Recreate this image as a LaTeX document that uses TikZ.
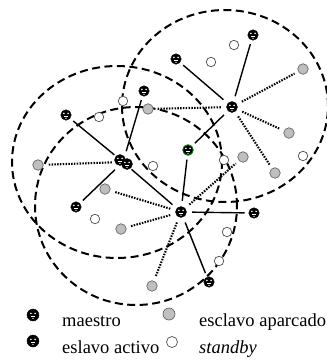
\documentclass[tikz,border=0pt]{standalone}
\usepackage{fontspec}
\setmainfont{Liberation Serif}
\begin{document}
\begin{tikzpicture}[x=1pt,y=-1pt,
  ring/.style={line width=2pt, dash pattern=on 8pt off 4.5pt},
  act/.style={line width=1.4pt, shorten <=4pt, shorten >=4pt},
  park/.style={line width=2.1pt, dash pattern=on 1.5pt off 1.3pt, shorten <=4pt, shorten >=4pt},
  blk/.style={circle, fill=black, draw=black, line width=0.4pt, minimum size=10.5pt, inner sep=0pt,
    path picture={
      \fill[white] (path picture bounding box.center) ++(-2.1pt,1.6pt) circle (0.9pt);
      \fill[white] (path picture bounding box.center) ++(2.1pt,1.6pt) circle (0.9pt);
      \fill[white] (path picture bounding box.center) ++(-2.4pt,-0.7pt) rectangle ++(4.8pt,-1pt);
      \fill[white] (path picture bounding box.center) ++(0pt,-3.3pt) circle (0.7pt);
    }},
  gry/.style={circle, fill=black!25, draw=black!60, line width=0.7pt, minimum size=10.5pt, inner sep=0pt},
  wht/.style={circle, fill=white, draw=black!70, line width=0.7pt, minimum size=9.5pt, inner sep=0pt},
  hub/.style={circle, minimum size=14pt, inner sep=0pt},
  lbl/.style={anchor=base west, inner sep=0pt, font=\fontsize{18.5}{20}\selectfont}
]
\useasboundingbox (0,0) rectangle (327,360);
% piconet boundaries
\draw[ring] (225,106) ellipse [x radius=103pt, y radius=96pt];
\draw[ring] (117,162) ellipse [x radius=105pt, y radius=96pt];
\draw[ring] (136,206) ellipse [x radius=101pt, y radius=99pt];
% masters
\node[hub] (M1) at (232,107) {};
\node[hub] (M2) at (123,162) {};
\node[hub] (M3) at (181,212) {};
% active slaves
\node[blk] (a1) at (253,35) {};
\node[blk] (a2) at (176,59) {};
\node[blk] (a3) at (144,91) {};
\node[blk] (a4) at (66,115) {};
\node[blk, draw=green!45!black, line width=0.9pt] (g) at (188,150) {};
\node[blk] (a5) at (76,207) {};
\node[blk] (a6) at (254,213) {};
\node[blk] (a7) at (209,282) {};
% parked slaves
\node[gry] (p1) at (303,69) {};
\node[gry] (p2) at (148,109) {};
\node[gry] (p3) at (289,133) {};
\node[gry] (p4) at (243,157) {};
\node[gry] (p5) at (275,173) {};
\node[gry] (p6) at (38,165) {};
\node[gry] (p7) at (105,189) {};
\node[gry] (p8) at (121,229) {};
\node[gry] (p9) at (152,286) {};
% standby
\node[wht] (w1) at (234,45) {};
\node[wht] (w2) at (211,62) {};
\node[wht] (w3) at (123,101) {};
\node[wht] (w4) at (99,117) {};
\node[wht] (w5) at (153,166) {};
\node[wht] (w6) at (224,160) {};
\node[wht] (w7) at (303,156) {};
\node[wht] (w8) at (95,219) {};
\node[wht] (w9) at (227,232) {};
\node[wht] (w10) at (219,261) {};
% links
\draw[act] (M1) -- (a1);
\draw[act] (M1) -- (a2);
\draw[act] (M1) -- (g);
\draw[act] (M2) -- (a3);
\draw[act] (M2) -- (a4);
\draw[act] (M2) -- (a5);
\draw[act] (M2) -- (M3);
\draw[act] (M3) -- (g);
\draw[act] (M3) -- (a6);
\draw[act] (M3) -- (a7);
\draw[park] (M1) -- (p1);
\draw[park] (M1) -- (p2);
\draw[park] (M1) -- (p3);
\draw[park] (M1) -- (p5);
\draw[park] (M2) -- (p6);
\draw[park] (M3) -- (p7);
\draw[park] (M3) -- (p8);
\draw[park] (M3) -- (p9);
\draw[park] (M3) -- (p4);
% master symbols
\node[blk, minimum size=11pt] (m1) at (M1) {};
\node[blk, minimum size=11pt] (m2a) at (120,160) {};
\node[blk, minimum size=11pt] (m2b) at (127,164) {};
\node[blk, minimum size=11pt] (m3) at (M3) {};
% legend
\node[blk, minimum size=12pt] (k1) at (33,315) {};
\node[lbl] (t1) at (62,326) {maestro};
\node[gry, minimum size=12pt] (k2) at (169,314) {};
\node[lbl] (t2) at (199,326) {esclavo aparcado};
\node[blk, minimum size=12pt] (k3) at (33,341) {};
\node[lbl] (t3) at (62,353) {eslavo activo};
\node[wht, minimum size=11pt] (k4) at (172,342) {};
\node[lbl] (t4) at (199,353) {\itshape standby};
\end{tikzpicture}
\end{document}
